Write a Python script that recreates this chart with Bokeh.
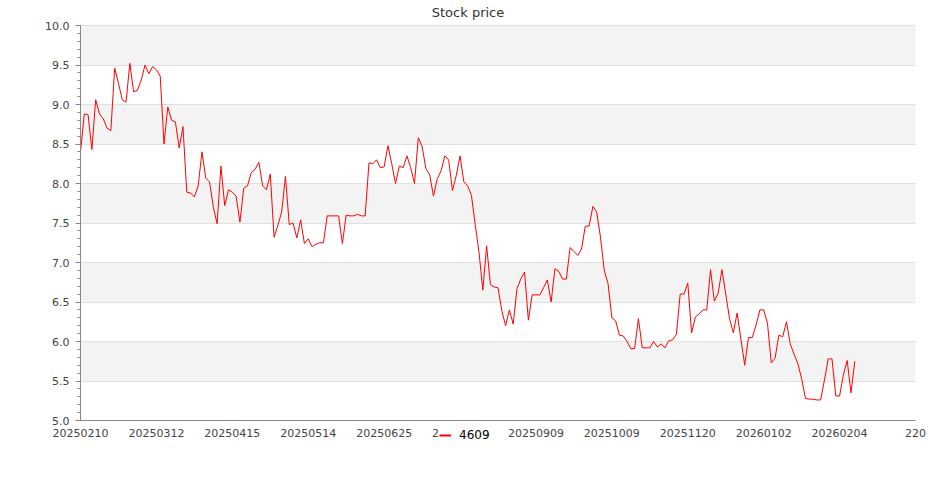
import numpy as np
from bokeh.plotting import figure
from bokeh.models import Range1d, FixedTicker, PrintfTickFormatter
from bokeh.embed import file_html
from bokeh.resources import INLINE

# ---- data ----
series_name = "4609"
prices = [
    8.40, 8.88, 8.87, 8.43, 9.06, 8.88, 8.82, 8.70, 8.67, 9.46,
    9.27, 9.06, 9.03, 9.52, 9.16, 9.18, 9.31, 9.50, 9.39, 9.48,
    9.44, 9.36, 8.50, 8.97, 8.80, 8.78, 8.45, 8.72, 7.89, 7.88,
    7.83, 7.97, 8.40, 8.07, 8.02, 7.70, 7.49, 8.22, 7.72, 7.92,
    7.89, 7.84, 7.51, 7.94, 7.97, 8.14, 8.18, 8.27, 7.97, 7.92,
    8.12, 7.32, 7.47, 7.64, 8.09, 7.48, 7.50, 7.31, 7.54, 7.24,
    7.30, 7.20, 7.23, 7.25, 7.25, 7.59, 7.59, 7.59, 7.59, 7.24,
    7.60, 7.59, 7.59, 7.61, 7.59, 7.59, 8.26, 8.25, 8.30, 8.20,
    8.21, 8.48, 8.25, 8.00, 8.22, 8.20, 8.35, 8.20, 8.00, 8.58,
    8.47, 8.19, 8.11, 7.84, 8.06, 8.16, 8.35, 8.30, 7.91, 8.10,
    8.35, 8.02, 7.97, 7.85, 7.48, 7.13, 6.65, 7.21, 6.72, 6.69,
    6.68, 6.39, 6.20, 6.40, 6.22, 6.67, 6.79, 6.88, 6.27, 6.59,
    6.59, 6.59, 6.68, 6.78, 6.50, 6.92, 6.89, 6.79, 6.79, 7.19,
    7.14, 7.09, 7.17, 7.46, 7.46, 7.71, 7.64, 7.32, 6.90, 6.73,
    6.30, 6.26, 6.08, 6.07, 6.00, 5.91, 5.91, 6.29, 5.92, 5.92,
    5.92, 6.00, 5.93, 5.97, 5.92, 6.01, 6.02, 6.09, 6.60, 6.60,
    6.74, 6.11, 6.31, 6.35, 6.40, 6.40, 6.91, 6.51, 6.61, 6.91,
    6.60, 6.29, 6.11, 6.36, 6.03, 5.70, 6.05, 6.05, 6.21, 6.40,
    6.40, 6.23, 5.73, 5.79, 6.08, 6.06, 6.25, 5.97, 5.84, 5.72,
    5.53, 5.28, 5.27, 5.27, 5.26, 5.26, 5.51, 5.78, 5.78, 5.31,
    5.31, 5.58, 5.76, 5.35, 5.75,
]
n_categories = 221
tick_step = 20
tick_labels = [
    "20250210", "20250312", "20250415", "20250514", "20250625", "20250731",
    "20250909", "20251009", "20251120", "20260102", "20260204", "220",
]
y_min, y_max, y_step = 5.0, 10.0, 0.5

# ---- layout (pixels) ----
plot_w, plot_h = 835, 395                      # value area (x 0..220, y 5..10)
pad_left, pad_right = 80, 20                   # frame margin for y labels / last x label
pad_top, pad_bottom = 5, 50                    # frame margin for top label / x labels + legend
x_last = n_categories - 1
x_start = -x_last * pad_left / plot_w
x_end = x_last + x_last * pad_right / plot_w
y_start = y_min - (y_max - y_min) * pad_bottom / plot_h
y_end = y_max + (y_max - y_min) * pad_top / plot_h

x_idx = list(range(len(prices)))
tick_pos = [i * tick_step for i in range(len(tick_labels))]
y_ticks = list(np.round(np.arange(y_min, y_max + 1e-9, y_step), 2))
y_minor = list(np.round(np.arange(y_min, y_max + 1e-9, y_step / 5), 2))

title_h = 20
p = figure(
    width=pad_left + plot_w + pad_right,
    height=title_h + pad_top + plot_h + pad_bottom,
    output_backend="svg", toolbar_location=None,
    x_range=Range1d(x_start, x_end), y_range=Range1d(y_start, y_end),
    min_border_left=0, min_border_right=0, min_border_top=title_h, min_border_bottom=0,
    title="Stock price",
)
p.outline_line_color = None
p.background_fill_color = "white"
p.border_fill_color = "white"

p.title.align = "center"
p.title.text_font = "DejaVu Sans"
p.title.text_font_size = "13px"
p.title.text_font_style = "normal"
p.title.text_color = "#333333"
p.title.standoff = 2

p.line(x_idx, prices, line_color="#ff0000", line_width=1)
# legend swatch (slightly heavier line like the reference legend); NaN -> draws nothing in the plot
p.line([float("nan")], [float("nan")], line_color="#ff0000", line_width=2, legend_label=series_name)

# x axis drawn at y = 5.0
xa = p.xaxis[0]
xa.fixed_location = y_min
xa.bounds = (0, x_last)
xa.ticker = FixedTicker(ticks=tick_pos)
xa.major_label_overrides = {pos: lab for pos, lab in zip(tick_pos, tick_labels)}
xa.major_tick_line_color = None
xa.minor_tick_line_color = None
xa.axis_line_color = "#888888"
xa.major_label_text_font = "DejaVu Sans"
xa.major_label_text_font_size = "11px"
xa.major_label_text_color = "#444444"
xa.major_label_standoff = 2

# y axis drawn at x = 0
ya = p.yaxis[0]
ya.fixed_location = 0
ya.bounds = (y_min, y_max)
ya.ticker = FixedTicker(ticks=y_ticks, minor_ticks=y_minor)
ya.formatter = PrintfTickFormatter(format="%.1f")
ya.axis_line_color = "#888888"
ya.major_tick_line_color = "#888888"
ya.minor_tick_line_color = "#888888"
ya.major_tick_in = 0
ya.major_tick_out = 5
ya.minor_tick_in = 0
ya.minor_tick_out = 3
ya.major_label_text_font = "DejaVu Sans"
ya.major_label_text_font_size = "11px"
ya.major_label_text_color = "#444444"
ya.major_label_standoff = 6

# horizontal grid lines + alternating bands (the 5.0 line is the x axis itself)
p.xgrid.grid_line_color = None
p.ygrid.ticker = FixedTicker(ticks=y_ticks[1:])
p.ygrid.bounds = (y_min, y_max)
p.ygrid.cross_bounds = (0, x_last)
p.ygrid.grid_line_color = "#e0e0e0"
p.ygrid.band_fill_color = "#f3f3f3"
p.ygrid.band_fill_alpha = 1.0

lg = p.legend[0]
lg.location = (439, 28)
lg.background_fill_color = "white"
lg.background_fill_alpha = 1.0
lg.border_line_color = None
lg.glyph_width = 12
lg.glyph_height = 12
lg.label_standoff = 8
lg.padding = 3
lg.margin = 0
lg.label_text_font = "DejaVu Sans"
lg.label_text_font_size = "12px"
lg.label_text_color = "#000000"

open("out.html", "w").write(file_html(p, INLINE))
